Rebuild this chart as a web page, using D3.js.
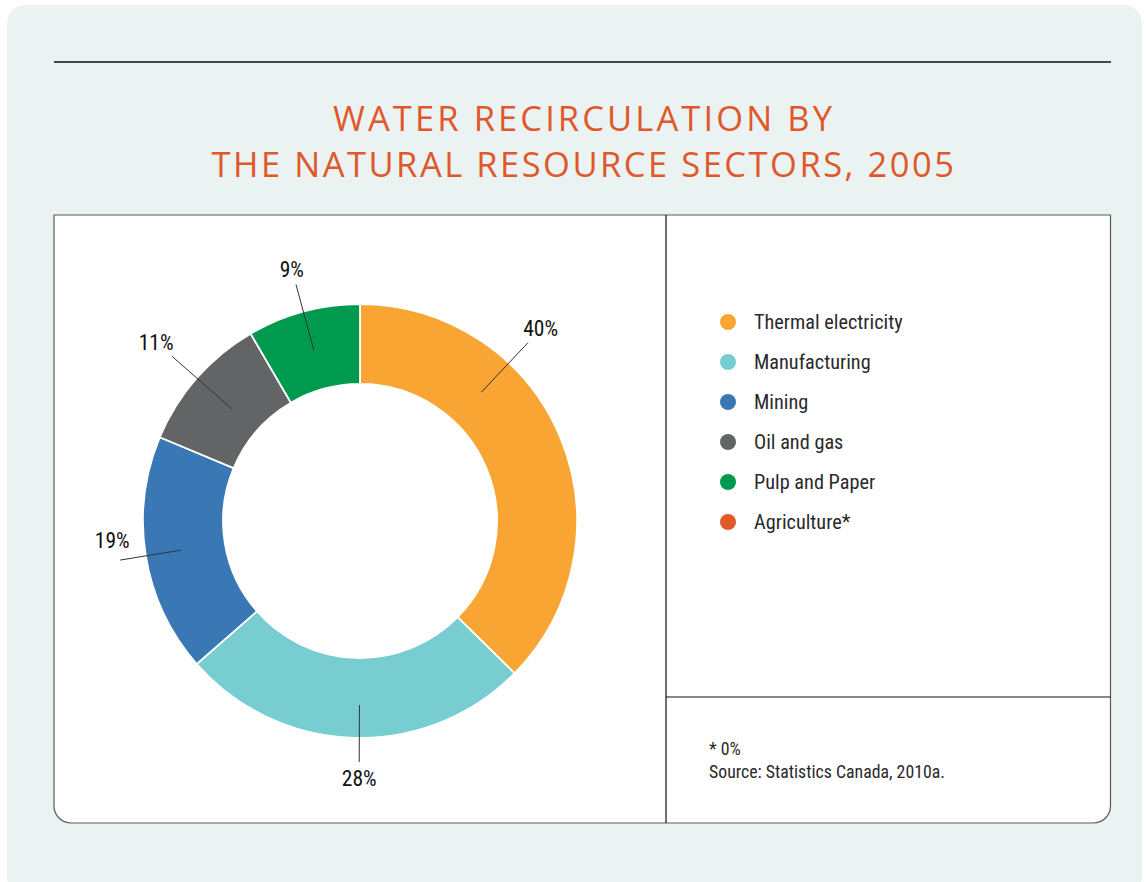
<!DOCTYPE html>
<html>
<head>
<meta charset="utf-8">
<script src="https://cdn.jsdelivr.net/npm/d3@7"></script>
<style>
  html, body { margin: 0; padding: 0; background: #ffffff; }
  svg { display: block; }
</style>
</head>
<body>
<svg id="chart" width="1148" height="882"></svg>
<script>
// ---- data ----
const categories = ["Thermal electricity", "Manufacturing", "Mining", "Oil and gas", "Pulp and Paper", "Agriculture*"];
const values = [40, 28, 19, 11, 9, 0];
const valueLabels = ["40%", "28%", "19%", "11%", "9%", ""];
const colors = ["#F9A533", "#78CDD0", "#3A78B5", "#636466", "#009A4E", "#E05A2A"];
const titleLines = ["WATER RECIRCULATION BY", "THE NATURAL RESOURCE SECTORS, 2005"];
const notes = ["* 0%", "Source: Statistics Canada, 2010a."];

// ---- layout ----
const svg = d3.select("#chart");
const labelFont = "'Liberation Sans Narrow', 'Roboto Condensed', 'Roboto', sans-serif";

// background panel
svg.append("rect").attr("x", 7).attr("y", 5).attr("width", 1135).attr("height", 890)
  .attr("rx", 18).attr("fill", "#EAF3F2");

// top rule
svg.append("line").attr("x1", 54).attr("x2", 1111).attr("y1", 62).attr("y2", 62)
  .attr("stroke", "#111").attr("stroke-width", 1.3);

// title
svg.append("g").selectAll("text").data(titleLines).join("text")
  .attr("x", 584).attr("y", (d, i) => 131 + i * 46)
  .attr("text-anchor", "middle")
  .attr("font-family", "'Open Sans', 'Noto Sans', sans-serif")
  .attr("font-size", 34.5).attr("font-weight", 400)
  .attr("letter-spacing", (d, i) => i === 0 ? 3.1 : 2.5)
  .attr("fill", "#E0582A")
  .text(d => d);

// box
const bx = 54, by = 215, bw = 1056.5, bh = 608, br = 17;
const boxPath = `M${bx},${by} H${bx + bw} V${by + bh - br} A${br},${br} 0 0 1 ${bx + bw - br},${by + bh} H${bx + br} A${br},${br} 0 0 1 ${bx},${by + bh - br} Z`;
svg.append("path").attr("d", boxPath).attr("fill", "#fff").attr("stroke", "#5a5a5a").attr("stroke-width", 1.2);
svg.append("line").attr("x1", 666).attr("x2", 666).attr("y1", by).attr("y2", by + bh).attr("stroke", "#111").attr("stroke-width", 1.2);
svg.append("line").attr("x1", 666).attr("x2", bx + bw).attr("y1", 697).attr("y2", 697).attr("stroke", "#111").attr("stroke-width", 1.2);

// donut
const cx = 360, cy = 521, rOuter = 217, rInner = 137;
const data = categories.map((c, i) => ({ cat: c, value: values[i], label: valueLabels[i], color: colors[i] }));
const pie = d3.pie().value(d => d.value).sort(null);
const arcs = pie(data);
const arc = d3.arc().innerRadius(rInner).outerRadius(rOuter);
const g = svg.append("g").attr("transform", `translate(${cx},${cy})`);
g.selectAll("path").data(arcs.filter(a => a.data.value > 0)).join("path")
  .attr("d", arc).attr("fill", d => d.data.color)
  .attr("stroke", "#fff").attr("stroke-width", 1.8);

// leader lines & labels (layout tweaks per slice, degrees / px)
const leaderShift = [-24, -1.5, 0, 0, 0];
const lineInner = [177, 184, 181, 170, 177];
const lineOuter = [245, 241, 243, 250, 245];
const labelR = [262, 258, 248, 271, 261];
const labelDx = [1, 0, -3, 0, 0];
const labelDy = [-2, 0, -20, 0, 0];
const pt = (ang, r) => [Math.sin(ang) * r, -Math.cos(ang) * r];
arcs.filter(a => a.data.value > 0).forEach((a, i) => {
  const ang = (a.startAngle + a.endAngle) / 2 + leaderShift[i] * Math.PI / 180;
  const p1 = pt(ang, lineInner[i]), p2 = pt(ang, lineOuter[i]), p3 = pt(ang, labelR[i]);
  g.append("line").attr("x1", p1[0]).attr("y1", p1[1]).attr("x2", p2[0]).attr("y2", p2[1])
    .attr("stroke", "#333").attr("stroke-width", 1);
  g.append("text").attr("x", p3[0] + labelDx[i]).attr("y", p3[1] + labelDy[i])
    .attr("text-anchor", "middle").attr("dominant-baseline", "central")
    .attr("font-family", labelFont).attr("font-size", 21.5).attr("fill", "#111")
    .text(a.data.label);
});

// legend
const legend = svg.append("g");
const items = legend.selectAll("g").data(data).join("g")
  .attr("transform", (d, i) => `translate(728, ${322 + i * 40})`);
items.append("circle").attr("r", 8).attr("fill", d => d.color);
items.append("text").attr("x", 26).attr("dy", "0.35em")
  .attr("font-family", labelFont).attr("font-size", 20.3).attr("fill", "#2a2a2a")
  .text(d => d.cat);

// notes
svg.append("g").selectAll("text").data(notes).join("text")
  .attr("x", 709).attr("y", (d, i) => 755 + i * 23)
  .attr("font-family", labelFont).attr("font-size", 17.8).attr("fill", "#2a2a2a")
  .text(d => d);
</script>
</body>
</html>
